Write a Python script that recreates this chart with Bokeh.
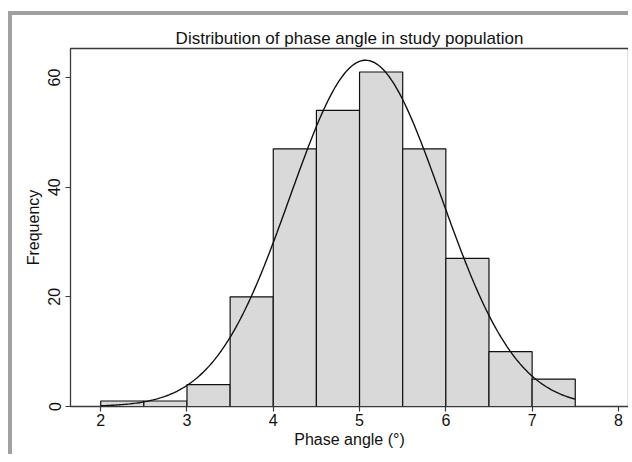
import numpy as np
from bokeh.plotting import figure
from bokeh.models import FixedTicker
from bokeh.embed import file_html
from bokeh.resources import INLINE

# Histogram data (bin width 0.5, starting at 2.0)
bin_left = [2.0, 2.5, 3.0, 3.5, 4.0, 4.5, 5.0, 5.5, 6.0, 6.5, 7.0]
bin_width = 0.5
counts = [1, 1, 4, 20, 47, 54, 61, 47, 27, 10, 5]

# Fitted normal curve parameters
fit_mean = 5.07
fit_sd = 0.875

title_text = "Distribution of phase angle in study population"
x_label_text = "Phase angle (°)"
y_label_text = "Frequency"
x_ticks = [2, 3, 4, 5, 6, 7, 8]
y_ticks = [0, 20, 40, 60]

FONT = "Liberation Sans"

p = figure(width=620, height=443, output_backend="svg", toolbar_location=None,
           x_range=(1.650, 8.117), y_range=(0, 65.29),
           min_border_left=58, min_border_right=4, min_border_top=33, min_border_bottom=52,
           styles={"border-left": "4px solid #a0a0a0", "border-top": "4px solid #a0a0a0",
                   "margin-top": "11px", "margin-left": "8px"})
p.background_fill_color = "white"
p.border_fill_color = "white"
p.outline_line_color = "#3a3a3a"
p.outline_line_width = 1.3
p.xgrid.visible = False
p.ygrid.visible = False

bin_right = [b + bin_width for b in bin_left]
p.quad(left=bin_left, right=bin_right, bottom=0, top=counts,
       fill_color="#d9d9d9", line_color="#111111", line_width=1.2)

n_total = sum(counts)
xs = np.linspace(bin_left[0], bin_right[-1], 300)
ys = n_total * bin_width * np.exp(-0.5 * ((xs - fit_mean) / fit_sd) ** 2) / (fit_sd * np.sqrt(2 * np.pi))
p.line(xs, ys, line_color="#111111", line_width=1.4)

for ax in (p.xaxis[0], p.yaxis[0]):
    ax.axis_line_color = None
    ax.major_tick_line_color = "#3a3a3a"
    ax.major_tick_line_width = 1.2
    ax.major_tick_out = 5
    ax.major_tick_in = 0
    ax.minor_tick_line_color = None
    ax.major_label_text_font = FONT
    ax.major_label_text_font_size = "16px"
    ax.major_label_text_color = "#111111"
    ax.axis_label_text_font = FONT
    ax.axis_label_text_font_size = "16px"
    ax.axis_label_text_font_style = "normal"
    ax.axis_label_text_color = "#111111"

p.xaxis.ticker = FixedTicker(ticks=x_ticks)
p.yaxis.ticker = FixedTicker(ticks=y_ticks)
p.xaxis.major_label_standoff = 2
p.yaxis.major_label_standoff = 5
p.yaxis.major_label_orientation = "vertical"

p.yaxis.axis_label = y_label_text
p.yaxis.axis_label_standoff = 4
p.xaxis.axis_label = x_label_text
p.xaxis.axis_label_standoff = 2

p.title.text = title_text
p.title.align = "center"
p.title.text_font = FONT
p.title.text_font_size = "17px"
p.title.text_font_style = "normal"
p.title.text_color = "#111111"
p.title.standoff = 2

open("out.html", "w").write(file_html(p, INLINE))
